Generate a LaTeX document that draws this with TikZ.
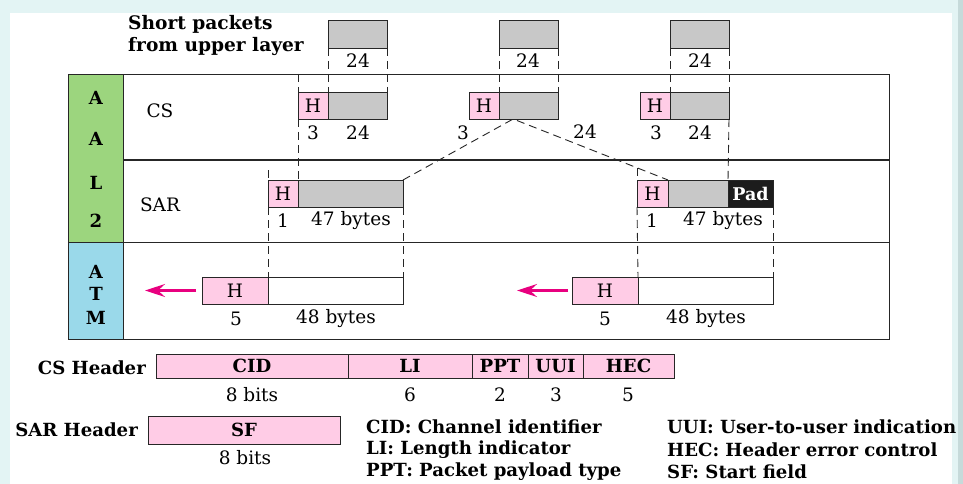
\documentclass[tikz,border=0pt]{standalone}
\usepackage{fontspec}
\setmainfont{DejaVu Serif}
\usetikzlibrary{arrows.meta,calc}
\definecolor{bgc}{HTML}{E3F4F4}
\definecolor{edgec}{HTML}{C6DADA}
\definecolor{pinkc}{HTML}{FFCCE6}
\definecolor{grayc}{HTML}{C8C8C8}
\definecolor{greenc}{HTML}{9CD57E}
\definecolor{bluec}{HTML}{9AD9EA}
\definecolor{padc}{HTML}{1C1C1C}
\definecolor{arrc}{HTML}{E8007F}
\begin{document}
\begin{tikzpicture}[x=1pt,y=-1pt,
  box/.style={draw=black!85, line width=0.9pt, inner sep=0pt, outer sep=0pt, anchor=north west, minimum height=27pt},
  hbox/.style={box, fill=pinkc, minimum width=30pt, font=\fontsize{18.5}{20}\selectfont},
  gbox/.style={box, fill=grayc},
  dsh/.style={draw=black!85, line width=0.9pt, dash pattern=on 8pt off 5pt},
  rt/.style={font=\fontsize{18.5}{21}\selectfont, inner sep=0pt},
  bt/.style={font=\bfseries\fontsize{18.1}{21}\selectfont, inner sep=0pt},
  fld/.style={box, fill=pinkc, minimum height=24pt, font=\bfseries\fontsize{18.1}{21}\selectfont},
  arr/.style={draw=arrc, line width=2.2pt, -{Stealth[length=20pt,width=13pt,inset=7pt]}}]
\useasboundingbox (0,0) rectangle (963,484);
% background
\fill[bgc] (0,0) rectangle (963,484);
\fill[white] (10,13) rectangle (952,484);
\fill[edgec] (958,0) rectangle (963,484);
% layer columns and frame
\node[box, fill=greenc, minimum width=55pt, minimum height=168pt] (aal) at (68,74) {};
\node[box, fill=bluec, minimum width=55pt, minimum height=97pt] (atm) at (68,242) {};
\node[box, minimum width=766pt, minimum height=265pt] (frame) at (123,74) {};
\draw[black!85, line width=1.6pt] (aal.north east |- 0,160) -- (frame.east |- 0,160);
\draw[black!85, line width=1pt] (atm.north east) -- (frame.east |- atm.north);
% column letters
\node[bt] (la1) at (96,98) {A};
\node[bt] (la2) at (96,139) {A};
\node[bt] (ll) at (96,183) {L};
\node[bt] (l2) at (96,221) {2};
\node[bt] (ta) at (96,272) {A};
\node[bt] (tt) at (96,294) {T};
\node[bt] (tm) at (96,318) {M};
\node[rt] (cs) at (160,111) {CS};
\node[rt] (sar) at (160,205) {SAR};
% short packets
\node[bt, align=left, anchor=west, font=\bfseries\fontsize{18.6}{22}\selectfont] (sp) at (128,36) {Short packets\\from upper layer};
\node[gbox, minimum width=59pt, minimum height=28pt] (p1) at (328,20) {};
\node[gbox, minimum width=59pt, minimum height=28pt] (p2) at (499,20) {};
\node[gbox, minimum width=59pt, minimum height=28pt] (p3) at (670,20) {};
\node[rt] (p1l) at (358,61) {24};
\node[rt] (p2l) at (528,61) {24};
\node[rt] (p3l) at (700,61) {24};
% CS packets
\node[hbox] (h1) at (298,92) {H};
\node[gbox, minimum width=59pt] (g1) at (328,92) {};
\node[hbox] (h2) at (469,92) {H};
\node[gbox, minimum width=59pt] (g2) at (499,92) {};
\node[hbox] (h3) at (640,92) {H};
\node[gbox, minimum width=59pt] (g3) at (670,92) {};
\node[rt] at (313,133) {3};
\node[rt] at (358,133) {24};
\node[rt] at (463,133) {3};
\node[rt] at (585,132) {24};
\node[rt] at (656,133) {3};
\node[rt] at (700,133) {24};
% SAR packets
\node[hbox] (s1h) at (268,180) {H};
\node[gbox, minimum width=105pt] (s1g) at (298,180) {};
\node[hbox, minimum width=31pt] (s2h) at (637,180) {H};
\node[gbox, minimum width=60pt] (s2g) at (668,180) {};
\node[box, fill=padc, minimum width=45pt, text=white, font=\bfseries\fontsize{17.5}{20}\selectfont] (s2p) at (728,180) {Pad};
\node[rt] at (283,221) {1};
\node[rt] at (351,221) {47 bytes};
\node[rt] at (652,221) {1};
\node[rt] at (723,221) {47 bytes};
% ATM cells
\node[hbox, minimum width=66pt] (a1h) at (202,277) {H};
\node[box, minimum width=135pt] (a1b) at (268,277) {};
\node[hbox, minimum width=66pt] (a2h) at (572,277) {H};
\node[box, minimum width=135pt] (a2b) at (638,277) {};
\node[rt] at (236,319) {5};
\node[rt] at (336,319) {48 bytes};
\node[rt] at (605,319) {5};
\node[rt] at (706,319) {48 bytes};
% dashed guides
\coordinate (c1top) at (298,74);
\coordinate (s1top) at (268,170);
\coordinate (s2top) at (637,168);
\coordinate (apex) at ($(g2.south west)!0.24!(g2.south east)$);
\draw[dsh] (p1.south west) -- (g1.north west);
\draw[dsh] (p1.south east) -- (g1.north east);
\draw[dsh] (p2.south west) -- (g2.north west);
\draw[dsh] (p2.south east) -- (g2.north east);
\draw[dsh] (p3.south west) -- (g3.north west);
\draw[dsh] (p3.south east) -- (g3.north east);
\draw[dsh] (c1top) -- (h1.north west);
\draw[dsh] (h1.south west) -- (s1g.north west);
\draw[dsh] (s1top) -- (s1h.north west);
\draw[dsh] (s1g.north east) -- (apex) -- (s2g.north west);
\draw[dsh] (g3.south east) -- (s2g.north east);
\draw[dsh] (s2top) -- (s2h.north west);
\draw[dsh] (s1h.south west) -- (a1b.north west);
\draw[dsh] (s1g.south east) -- (a1b.north east);
\draw[dsh] (s2h.south west) -- (a2b.north west);
\draw[dsh] (s2p.south east) -- (a2b.north east);
% arrows
\coordinate (a1end) at (145,0);
\coordinate (a2end) at (517,0);
\draw[arr] ([xshift=-6pt]a1h.west) -- (a1end |- a1h.west);
\draw[arr] ([xshift=-4pt]a2h.west) -- (a2end |- a2h.west);
% headers
\node[bt, anchor=east] (csh) at (146,368) {CS Header};
\node[fld, minimum width=192pt] (cid) at (156,354) {CID};
\node[fld, minimum width=124pt] (li) at (348,354) {LI};
\node[fld, minimum width=56pt] (ppt) at (472,354) {PPT};
\node[fld, minimum width=55pt] (uui) at (528,354) {UUI};
\node[fld, minimum width=91pt] (hec) at (583,354) {HEC};
\node[rt] at (252,395) {8 bits};
\node[rt] at (410,395) {6};
\node[rt] at (500,395) {2};
\node[rt] at (556,395) {3};
\node[rt] at (628,395) {5};
\node[bt, anchor=east] (sarh) at (138,430) {SAR Header};
\node[fld, minimum width=192pt, minimum height=28pt] (sf) at (148,416) {SF};
\node[rt] at (245,458) {8 bits};
% legend
\node[bt, anchor=west] at (366,427) {CID: Channel identifier};
\node[bt, anchor=west] at (366,450) {LI: Length indicator};
\node[bt, anchor=west] at (366,472) {PPT: Packet payload type};
\node[bt, anchor=west] at (667,427) {UUI: User-to-user indication};
\node[bt, anchor=west] at (667,450) {HEC: Header error control};
\node[bt, anchor=west] at (667,472) {SF: Start field};
\end{tikzpicture}
\end{document}
